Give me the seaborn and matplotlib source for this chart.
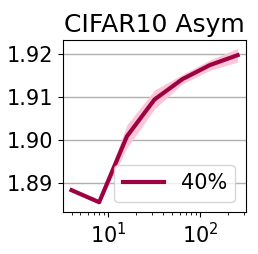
import matplotlib
matplotlib.use('Agg')
import matplotlib.pyplot as plt
import numpy as np
import pandas as pd
import seaborn as sns

# data
steps = [4, 8, 16, 32, 64, 128, 256]
mean_vals = [1.8884, 1.8856, 1.9009, 1.9095, 1.9142, 1.9175, 1.9198]
spread = [0.0003, 0.0003, 0.0027, 0.0022, 0.0011, 0.0012, 0.0016]

df = pd.DataFrame({'step': steps, 'value': mean_vals, 'spread': spread})

line_color = '#9e0142'
band_color = '#fcc3d5'

fig, ax = plt.subplots(figsize=(2.58, 2.54), dpi=100)
ax.fill_between(df['step'], df['value'] - df['spread'], df['value'] + df['spread'],
                color=band_color, alpha=0.95, linewidth=0, zorder=2)
sns.lineplot(data=df, x='step', y='value', color=line_color, linewidth=3,
             label='40%', ax=ax, zorder=3)
ax.set_xscale('log')
ax.set_ylim(1.8833, 1.9233)
ax.set_yticks([1.89, 1.90, 1.91, 1.92])
ax.yaxis.grid(True, color='#b0b0b0', linewidth=1)
ax.set_axisbelow(True)
ax.set_xlabel('')
ax.set_ylabel('')
ax.set_title('CIFAR10 Asym', fontsize=18)
ax.tick_params(labelsize=15)
ax.legend(loc='lower right', fontsize=15, handlelength=2.0)

fig.subplots_adjust(left=0.245, right=0.953, top=0.842, bottom=0.165)
fig.savefig('out.png', dpi=100)
